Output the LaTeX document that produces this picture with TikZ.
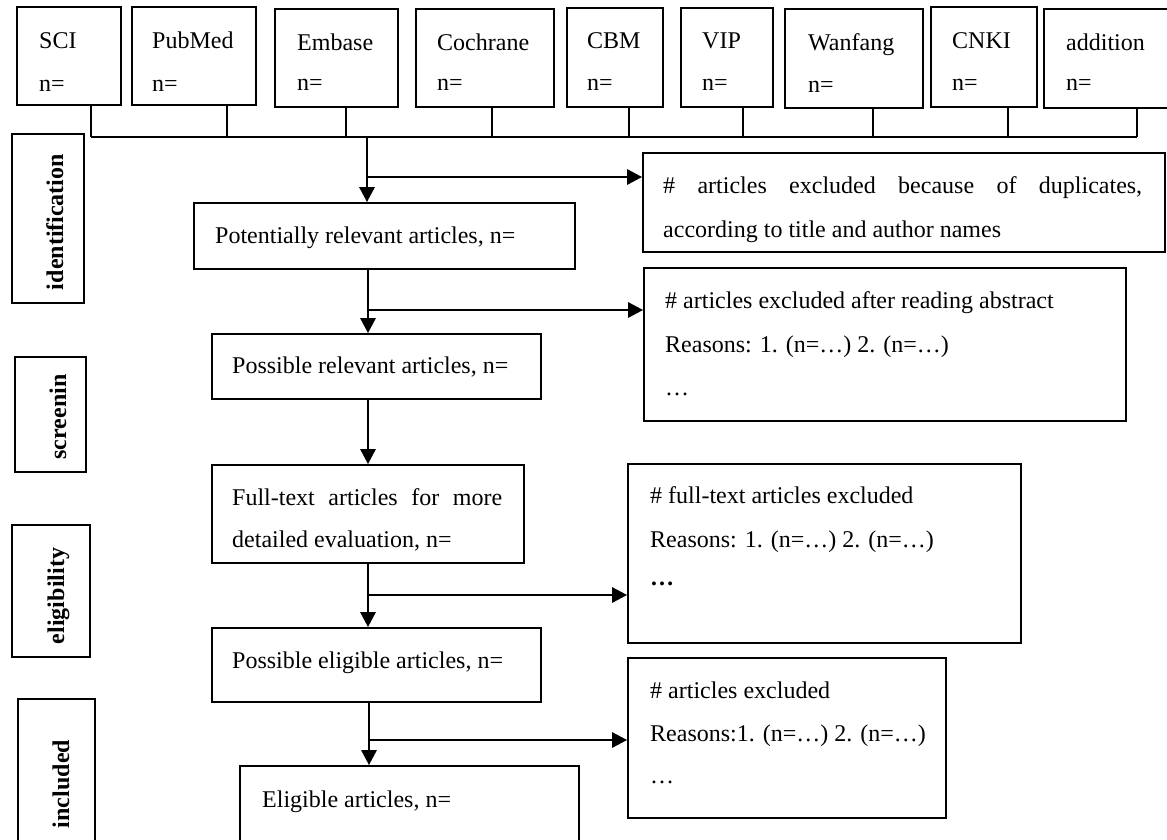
\documentclass[tikz,border=0pt]{standalone}
\usepackage{fontspec}
\setmainfont{Liberation Serif}
\usetikzlibrary{arrows.meta,fit}
\begin{document}
\begin{tikzpicture}[x=1pt,y=-1pt,
  box/.style={draw, line width=1.7pt, inner sep=0pt},
  txt/.style={inner sep=0pt, anchor=base west, font=\fontsize{24}{24}\selectfont},
  lbl/.style={inner sep=0pt, anchor=base, rotate=90, font=\fontsize{24}{24}\selectfont\bfseries},
  arr/.style={line width=2.7pt, -{Triangle[length=15pt,width=15pt]}},
  link/.style={line width=1.6pt}]
\useasboundingbox (0,0) rectangle (1167,839);
\fill[white] (0,0) rectangle (1167,839);
\clip (0,0) rectangle (1167,839);
% ---- database boxes
\node[box, fit={(17,7) (121,105)}] (sci) {};
\node[box, fit={(132,7) (256,105)}] (pub) {};
\node[box, fit={(275,9) (398,107)}] (emb) {};
\node[box, fit={(416,9) (554,107)}] (coc) {};
\node[box, fit={(567,8) (663,107)}] (cbm) {};
\node[box, fit={(681,8) (773,107)}] (vip) {};
\node[box, fit={(785,9) (923,108)}] (wan) {};
\node[box, fit={(931,7) (1037,107)}] (cnki) {};
\node[box, fit={(1044,9) (1185,108)}] (add) {};
\node[txt] (scit) at (39,48) {SCI};       \node[txt] (scin) at (39,91) {n=};
\node[txt] (pubt) at (152,48) {PubMed};   \node[txt] (pubn) at (152,91) {n=};
\node[txt] (embt) at (297,50) {Embase};   \node[txt] (embn) at (297,90) {n=};
\node[txt] (coct) at (437,50) {Cochrane}; \node[txt] (cocn) at (437,90) {n=};
\node[txt] (cbmt) at (587,48) {CBM};      \node[txt] (cbmn) at (587,90) {n=};
\node[txt] (vipt) at (702,48) {VIP};      \node[txt] (vipn) at (702,90) {n=};
\node[txt] (want) at (808,50) {Wanfang};  \node[txt] (wann) at (808,92) {n=};
\node[txt] (cnkit) at (952,48) {CNKI};    \node[txt] (cnkin) at (952,90) {n=};
\node[txt] (addt) at (1066,50) {addition};\node[txt] (addn) at (1066,90) {n=};
% ---- bus
\coordinate (bsci) at (91,137);
\coordinate (bpub) at (227,137);
\coordinate (bemb) at (346,137);
\coordinate (bcoc) at (492,137);
\coordinate (bcbm) at (629,137);
\coordinate (bvip) at (743,137);
\coordinate (bwan) at (873,137);
\coordinate (bcnki) at (1008,137);
\coordinate (badd) at (1137,137);
\foreach \n in {sci,pub,emb,coc,cbm,vip,wan,cnki,add}
  \draw[link] (b\n |- \n.south) -- (b\n);
\draw[link] (bsci) -- (badd);
% ---- stage labels
\node[box, fit={(12,134) (84,303)}] (ident) {};
\node[box, fit={(15,357) (86,472)}] (scr) {};
\node[box, fit={(12,525) (90,657)}] (eli) {};
\node[box, fit={(18,699) (95,880)}] (inc) {};
\node[lbl] (identt) at (63,222) {identification};
\node[lbl] (scrt) at (66,417) {screenin};
\node[lbl] (elit) at (64,596) {eligibility};
\node[lbl] (inct) at (69,784) {included};
% ---- main flow boxes
\node[box, fit={(194,203) (575,269)}] (pot) {};
\node[box, fit={(212,334) (541,399)}] (prel) {};
\node[box, fit={(212,465) (524,563)}] (full) {};
\node[box, fit={(212,628) (541,702)}] (pel) {};
\node[box, fit={(240,766) (579,890)}] (elig) {};
\node[txt] (pott) at (215,243) {Potentially relevant articles, n=};
\node[txt] (prelt) at (232,373) {Possible relevant articles, n=};
\node[txt] (fullt1) at (232,505) {\makebox[270pt][s]{Full-text articles for more}};
\node[txt] (fullt2) at (232,547) {detailed evaluation, n=};
\node[txt] (pelt) at (232,668) {Possible eligible articles, n=};
\node[txt] (eligt) at (262,807) {Eligible articles, n=};
% ---- exclusion boxes
\node[box, fit={(643,153) (1165,252)}] (ex1) {};
\node[box, fit={(644,268) (1126,421)}] (ex2) {};
\node[box, fit={(628,464) (1021,643)}] (ex3) {};
\node[box, fit={(628,658) (946,818)}] (ex4) {};
\node[txt] (ex1a) at (663,193) {\makebox[479pt][s]{\# articles excluded because of duplicates,}};
\node[txt] (ex1b) at (663,237) {according to title and author names};
\node[txt] (ex2a) at (665,308) {\# articles excluded after reading abstract};
\node[txt] (ex2b) at (665,352) {Reasons: 1. (n=…) 2. (n=…)};
\node[txt] (ex2c) at (665,395) {…};
\node[txt] (ex3a) at (650,503) {\# full-text articles excluded};
\node[txt] (ex3b) at (650,547) {Reasons: 1. (n=…) 2. (n=…)};
\node[txt] (ex3c) at (650,585) {\textbf{…}};
\node[txt] (ex4a) at (650,698) {\# articles excluded};
\node[txt] (ex4b) at (650,741) {Reasons:1. (n=…) 2. (n=…)};
\node[txt] (ex4c) at (650,783) {…};
% ---- arrows
\coordinate (m0) at (367,137);
\coordinate (j1) at (367,177);
\coordinate (j2) at (368,310);
\coordinate (m3) at (368,430);
\coordinate (j4) at (368,595);
\coordinate (j5) at (369,740);
\draw[arr] (m0) -- (m0 |- pot.north);
\draw[arr] (j1) -- (j1 -| ex1.west);
\draw[arr] (j2 |- pot.south) -- (j2 |- prel.north);
\draw[arr] (j2) -- (j2 -| ex2.west);
\draw[arr] (m3 |- prel.south) -- (m3 |- full.north);
\draw[arr] (j4 |- full.south) -- (j4 |- pel.north);
\draw[arr] (j4) -- (j4 -| ex3.west);
\draw[arr] (j5 |- pel.south) -- (j5 |- elig.north);
\draw[arr] (j5) -- (j5 -| ex4.west);
\end{tikzpicture}
\end{document}
